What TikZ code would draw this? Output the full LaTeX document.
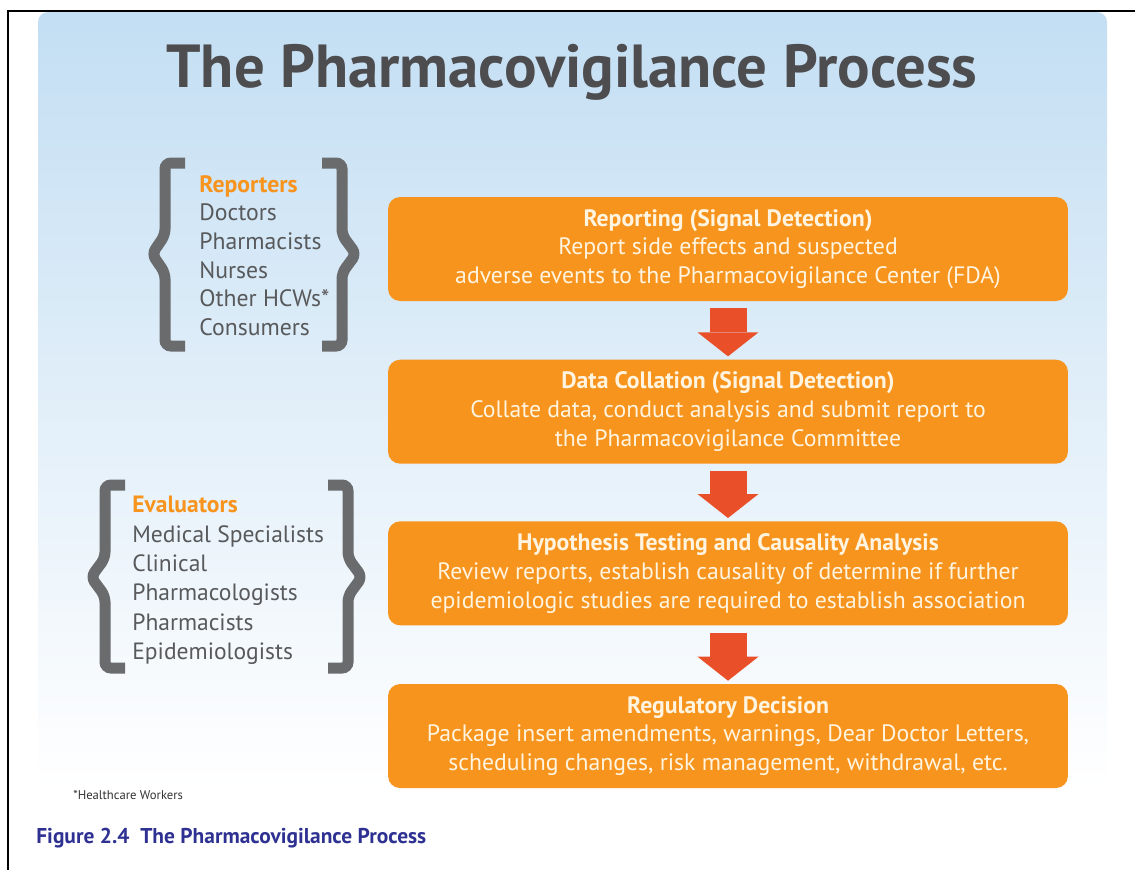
\documentclass[tikz,border=0pt]{standalone}
\usepackage{fontspec}
\setmainfont{PT Sans}
\usetikzlibrary{positioning, calc, arrows.meta}

\definecolor{panelblue}{HTML}{C3DEF3}
\definecolor{boxorange}{HTML}{F7941D}
\definecolor{boxtext}{HTML}{FFF4E0}
\definecolor{arrowred}{HTML}{E9502A}
\definecolor{bracegray}{HTML}{6A6B6D}
\definecolor{listgray}{HTML}{58595B}
\definecolor{titlegray}{HTML}{4D4D4F}
\definecolor{capblue}{HTML}{2E3192}

\tikzset{
  stepbox/.style={rectangle, rounded corners=0.24cm, fill=boxorange, text=boxtext,
    minimum width=13.6cm, minimum height=2.08cm, inner sep=0pt, align=center,
    font=\fontsize{13.5}{16.4}\selectfont},
  flowarrow/.style={draw=arrowred, line width=0.74cm,
    -{Triangle[width=1.22cm, length=0.48cm, line width=0pt]},
    shorten <=0.14cm, shorten >=0.06cm},
  brace/.style={draw=bracegray, line width=0.22cm, rounded corners=0.12cm},
  rolelist/.style={anchor=north west, align=left, inner sep=0pt, text=listgray},
}

\begin{document}
\begin{tikzpicture}[x=0.02cm, y=-0.02cm]
\useasboundingbox (0,0) rectangle (1135,870);
% page frame and the shaded panel
\shade[top color=panelblue, bottom color=white, rounded corners=0.2cm] (38,12) rectangle (1107,785);
\draw[line width=0.03cm] (1135,11) -- (8,11) -- (8,870);

\node[anchor=base, text=titlegray, font=\fontsize{34.6}{34}\selectfont\bfseries] (title) at (572,87) {The Pharmacovigilance Process};

% who takes part
\node[rolelist, font=\fontsize{13.5}{16.3}\selectfont] (reporters) at (199,175)
  {{\color{boxorange}\bfseries Reporters}\\ Doctors\\ Pharmacists\\ Nurses\\ Other HCWs*\\ Consumers};
\node[rolelist, font=\fontsize{13.4}{16.7}\selectfont] (evaluators) at (132,496)
  {{\color{boxorange}\bfseries Evaluators}\\ Medical Specialists\\ Clinical\\ Pharmacologists\\ Pharmacists\\ Epidemiologists};

\draw[brace] (185,163) -- (165,163) -- (165,235) -- (152,254) -- (165,273) -- (165,346) -- (185,346);
\draw[brace] (322,163) -- (342,163) -- (342,235) -- (356,254) -- (342,273) -- (342,346) -- (322,346);
\draw[brace] (125,485) -- (105,485) -- (105,558) -- (91,577) -- (105,596) -- (105,668) -- (125,668);
\draw[brace] (328,485) -- (348,485) -- (348,558) -- (362,577) -- (348,596) -- (348,668) -- (328,668);

% the four steps
\node[stepbox] (report) at (728,249)
  {{\bfseries Reporting (Signal Detection)}\\ Report side effects and suspected\\ adverse events to the Pharmacovigilance Center (FDA)};
\node[stepbox, below=1.16cm of report] (collate)
  {{\bfseries Data Collation (Signal Detection)}\\ Collate data, conduct analysis and submit report to\\ the Pharmacovigilance Committee};
\node[stepbox, below=1.14cm of collate] (causal)
  {{\bfseries Hypothesis Testing and Causality Analysis}\\ Review reports, establish causality of determine if further\\ epidemiologic studies are required to establish association};
\node[stepbox, below=1.16cm of causal] (decision)
  {{\bfseries Regulatory Decision}\\ Package insert amendments, warnings, Dear Doctor Letters,\\ scheduling changes, risk management, withdrawal, etc.};

\draw[flowarrow] (report) -- (collate);
\draw[flowarrow] (collate) -- (causal);
\draw[flowarrow] (causal) -- (decision);

\node[anchor=base west, inner sep=0pt, font=\fontsize{7.2}{8}\selectfont, text=black!80] (note) at (73,799) {*Healthcare Workers};
\node[anchor=base west, inner sep=0pt, text=capblue, font=\fontsize{12.2}{14}\selectfont\bfseries] (caption) at (36,843) {Figure 2.4\ \ The Pharmacovigilance Process};
\end{tikzpicture}
\end{document}
